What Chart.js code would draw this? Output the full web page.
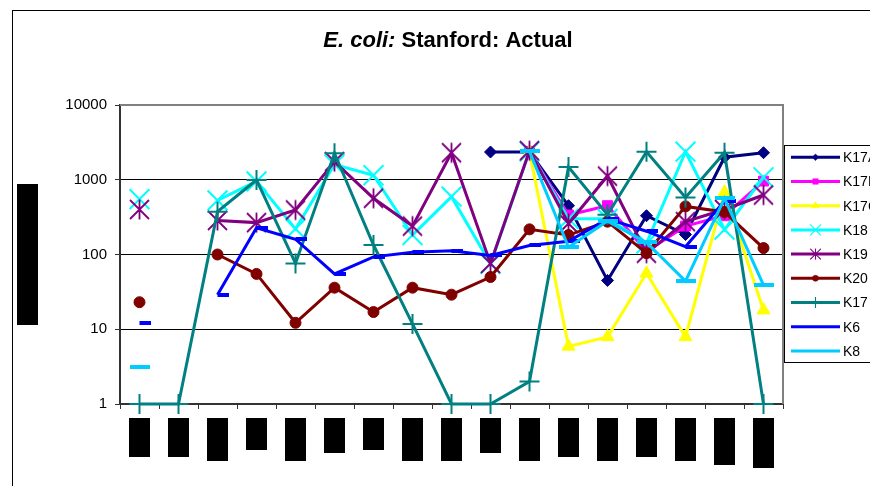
<!DOCTYPE html>
<html>
<head>
<meta charset="utf-8">
<script src="https://cdn.jsdelivr.net/npm/chart.js@4.4.1/dist/chart.umd.min.js"></script>
<style>
  html, body { margin: 0; padding: 0; background: #fff; overflow: hidden; }
  canvas { display: block; }
</style>
</head>
<body>
<canvas id="c" width="870" height="486"></canvas>
<script>
// Sampling dates along the x axis (labels are blacked out on the chart)
const samples = ['1','2','3','4','5','6','7','8','9','10','11','12','13','14','15','16','17'];
const labelBlockHeights = [39, 39, 43, 32, 43, 35, 32, 43, 43, 35, 43, 39, 43, 39, 43, 47, 50];
const yTicks = [1, 10, 100, 1000, 10000];

// E. coli counts per site
const k17a = [null, null, null, null, null, null, null, null, null, 2350, 2350, 450, 45, 330, 185, 2000, 2300];
const k17b = [null, null, null, null, null, null, null, null, null, null, 2400, 338, 450, 110, 240, 330, 960];
const k17c = [null, null, null, null, null, null, null, null, null, null, 2350, 5.9, 7.9, 56, 7.9, 680, 18];
const k18  = [550, null, 530, 950, 220, 1600, 1150, 182, 594, 75, 2400, 300, 300, 141, 2372, 215, 1080];
const k19  = [400, null, 285, 267, 394, 1750, 565, 240, 2300, 76, 2450, 260, 1120, 104, 275, 400, 625];
const k20  = [23, null, 100, 55, 12.2, 36, 17, 36, 29, 50, 217, 182, 275, 104, 440, 370, 122];
const k17  = [1, 1, 374, 993, 76, 2260, 134, 11.8, 1, 1, 2, 1480, 340, 2372, 580, 2300, 1];
const k6   = [12, null, 29, 228, 160, 55, 93, 107, 112, 97, 132, 150, 300, 205, 127, 520, null];
const k8   = [3.16, null, null, null, null, null, null, null, null, null, 2400, 125, 280, 145, 44, 565, 39];

const FONT = '"Liberation Sans", Arial, sans-serif';

// Marker images for the dash and asterisk styles
function dashMarker(color, w, h, fromCenter) {
  const c = document.createElement('canvas');
  c.width = fromCenter ? 2 * w : w;
  c.height = h;
  const g = c.getContext('2d');
  g.fillStyle = color;
  g.fillRect(fromCenter ? w : 0, 0, w, h);
  return c;
}
function starMarker(color) {
  const c = document.createElement('canvas');
  c.width = 23; c.height = 23;
  const g = c.getContext('2d');
  g.strokeStyle = color;
  g.lineWidth = 1.8;
  g.beginPath();
  g.moveTo(2, 2); g.lineTo(21, 21);
  g.moveTo(2, 21); g.lineTo(21, 2);
  g.moveTo(11.5, 1.5); g.lineTo(11.5, 21.5);
  g.stroke();
  return c;
}

const series = [
  { name: 'K17A', data: k17a, color: '#000080', style: 'rectRot', r: 6, bw: 1 },
  { name: 'K17B', data: k17b, color: '#FF00FF', style: 'rect', r: 7, bw: 1 },
  { name: 'K17C', data: k17c, color: '#FFFF00', style: 'triangle', r: 7.5, bw: 1 },
  { name: 'K18',  data: k18,  color: '#00FFFF', style: 'crossRot', r: 14, bw: 2 },
  { name: 'K19',  data: k19,  color: '#800080', style: starMarker('#800080'), r: 10, bw: 0 },
  { name: 'K20',  data: k20,  color: '#800000', style: 'circle', r: 5.5, bw: 1 },
  { name: 'K17',  data: k17,  color: '#008080', style: 'cross', r: 10, bw: 2 },
  { name: 'K6',   data: k6,   color: '#0000FF', style: dashMarker('#0000FF', 11, 4, true), r: 6, bw: 0 },
  { name: 'K8',   data: k8,   color: '#00CCFF', style: dashMarker('#00CCFF', 20, 4, false), r: 10, bw: 0 }
];

const datasets = series.map((s, i) => ({
  label: s.name,
  data: s.data,
  borderColor: s.color,
  backgroundColor: s.color,
  borderWidth: 3,
  pointStyle: s.style,
  pointRadius: s.r,
  pointHoverRadius: s.r,
  pointBorderWidth: s.bw,
  pointBorderColor: s.color,
  pointBackgroundColor: s.color,
  spanGaps: false,
  tension: 0,
  clip: false,
  order: series.length - i
}));

const decorations = {
  id: 'decorations',
  beforeDatasetsDraw(chart) {
    const { ctx, chartArea: a } = chart;
    ctx.save();
    // plot area frame (top and right)
    ctx.strokeStyle = '#808080';
    ctx.lineWidth = 2;
    ctx.beginPath();
    ctx.moveTo(a.left, a.top);
    ctx.lineTo(a.right, a.top);
    ctx.lineTo(a.right, a.bottom);
    ctx.stroke();
    ctx.restore();
  },
  afterDraw(chart) {
    const { ctx } = chart;
    const xs = chart.scales.x;
    ctx.save();

    // outer chart frame
    ctx.strokeStyle = '#000';
    ctx.lineWidth = 1;
    ctx.strokeRect(12.5, 10.5, 900, 520);

    // title with italic species name
    const parts = [
      { text: 'E. coli:', font: 'italic bold 22px ' + FONT },
      { text: ' Stanford: Actual', font: 'bold 22px ' + FONT }
    ];
    let total = 0;
    parts.forEach(p => { ctx.font = p.font; p.w = ctx.measureText(p.text).width; total += p.w; });
    let tx = 448 - total / 2;
    ctx.fillStyle = '#000';
    ctx.textBaseline = 'alphabetic';
    ctx.textAlign = 'left';
    parts.forEach(p => { ctx.font = p.font; ctx.fillText(p.text, tx, 47); tx += p.w; });

    // blacked-out axis title and category labels
    ctx.fillStyle = '#000';
    ctx.fillRect(17, 184, 21, 141);
    samples.forEach((s, i) => {
      const x = xs.getPixelForValue(i);
      ctx.fillRect(Math.round(x - 10.5), 418, 21, labelBlockHeights[i]);
    });

    // legend
    const lx = 784.5, ly = 145.5;
    ctx.fillStyle = '#fff';
    ctx.fillRect(lx, ly, 100, 217);
    ctx.strokeStyle = '#000';
    ctx.lineWidth = 1;
    ctx.strokeRect(lx, ly, 100, 217);
    series.forEach((s, i) => {
      const y = 157.3 + i * 24.2;
      ctx.strokeStyle = s.color;
      ctx.lineWidth = 3;
      ctx.beginPath();
      ctx.moveTo(791, y);
      ctx.lineTo(840, y);
      ctx.stroke();
      ctx.save();
      ctx.translate(815.5, y);
      ctx.scale(0.55, 0.55);
      ctx.fillStyle = s.color;
      ctx.strokeStyle = s.color;
      ctx.lineWidth = s.bw;
      Chart.helpers.drawPoint(ctx, { pointStyle: s.style, radius: s.r, borderWidth: s.bw, rotation: 0 }, 0, 0);
      ctx.restore();
      ctx.fillStyle = '#000';
      ctx.font = '14px ' + FONT;
      ctx.textBaseline = 'middle';
      ctx.fillText(s.name, 843, y + 1);
    });
    ctx.restore();
  }
};

new Chart(document.getElementById('c'), {
  type: 'line',
  data: { labels: samples, datasets },
  options: {
    responsive: false,
    animation: false,
    devicePixelRatio: 1,
    layout: { padding: { left: 0, right: 87, top: 105, bottom: 0 } },
    plugins: { legend: { display: false }, title: { display: false }, tooltip: { enabled: false } },
    scales: {
      x: {
        type: 'category',
        offset: true,
        afterFit(scale) { scale.height = 82; },
        grid: { offset: true, drawOnChartArea: false, drawTicks: true, tickLength: 5, tickColor: '#333' },
        border: { color: '#333', width: 2 },
        ticks: { display: false }
      },
      y: {
        type: 'logarithmic',
        min: 1,
        max: 10000,
        afterFit(scale) { scale.width = 120; },
        afterBuildTicks(scale) { scale.ticks = yTicks.map(v => ({ value: v })); },
        grid: {
          color: ctx => (ctx.tick && ctx.tick.value === 10000) ? 'rgba(0,0,0,0)' : '#000',
          lineWidth: 1,
          drawTicks: true,
          tickLength: 5,
          tickColor: '#333'
        },
        border: { color: '#333', width: 2 },
        ticks: {
          color: '#000',
          font: { family: FONT, size: 15 },
          padding: 8,
          autoSkip: false,
          callback: v => String(v)
        }
      }
    }
  },
  plugins: [decorations]
});
</script>
</body>
</html>
